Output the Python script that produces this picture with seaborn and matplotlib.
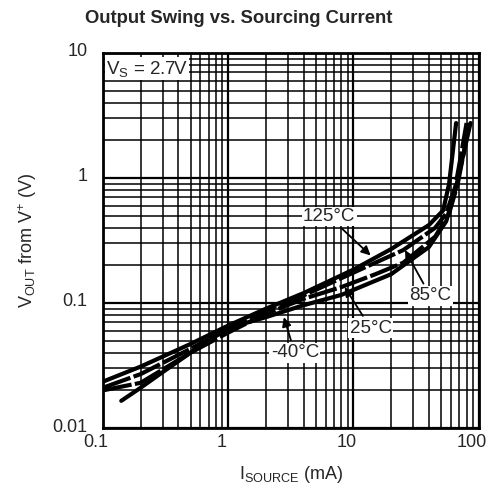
import pandas as pd
import matplotlib.pyplot as plt
import seaborn as sns
from matplotlib.ticker import LogLocator, NullFormatter
from matplotlib.transforms import ScaledTranslation

# curves (I in mA, V in volts)
i_125 = [0.1, 0.2, 0.5, 1, 2, 4, 10, 20, 40, 52, 58, 62, 66]
v_125 = [0.0235, 0.031, 0.047, 0.066, 0.09, 0.12, 0.185, 0.27, 0.42, 0.55, 0.9, 1.6, 2.75]
i_85 = [0.1, 0.2, 0.5, 1, 2, 4, 10, 25, 45, 55, 65, 72, 80]
v_85 = [0.021, 0.027, 0.043, 0.062, 0.088, 0.115, 0.175, 0.265, 0.4, 0.52, 0.85, 1.5, 2.75]
i_25 = [0.1, 0.2, 0.5, 1, 2, 4, 8, 15, 25, 45, 58, 68, 76, 84]
v_25 = [0.02, 0.023, 0.04, 0.058, 0.082, 0.108, 0.134, 0.17, 0.21, 0.34, 0.52, 0.9, 1.6, 2.75]
i_m40 = [0.14, 0.2, 0.3, 0.5, 1, 2, 4, 8, 20, 40, 55, 65, 75, 86]
v_m40 = [0.0165, 0.021, 0.028, 0.04, 0.063, 0.077, 0.096, 0.116, 0.17, 0.28, 0.45, 0.8, 1.5, 2.75]

temps = ['125°C', '85°C', '25°C', '-40°C']
currents = [i_125, i_85, i_25, i_m40]
volts = [v_125, v_85, v_25, v_m40]

frames = []
for t, i, v in zip(temps, currents, volts):
    frames.append(pd.DataFrame({'I': i, 'V': v, 'temp': t}))
df = pd.concat(frames, ignore_index=True)

sns.set_style('white')
plt.rcParams['font.family'] = ['Liberation Sans', 'DejaVu Sans']
plt.rcParams['mathtext.default'] = 'regular'

fig = plt.figure(figsize=(4.88, 4.90), dpi=100)
ax = fig.add_axes([0.211, 0.1265, 0.770, 0.7655])
ax.set_xscale('log')
ax.set_yscale('log')

sns.lineplot(data=df, x='I', y='V', hue='temp', style='temp',
             palette=['black'] * 4,
             dashes={'125°C': '', '85°C': (7, 0.8), '25°C': (7, 0.8), '-40°C': ''},
             linewidth=3, legend=False, sort=False, estimator=None, ax=ax, zorder=3)

ax.set_xlim(0.1, 100)
ax.set_ylim(0.01, 10)
ax.xaxis.set_minor_locator(LogLocator(base=10, subs=range(2, 10)))
ax.yaxis.set_minor_locator(LogLocator(base=10, subs=range(2, 10)))
ax.xaxis.set_minor_formatter(NullFormatter())
ax.yaxis.set_minor_formatter(NullFormatter())
ax.set_xticks([0.1, 1, 10, 100], labels=['0.1', '1', '10', '100'])
ax.set_yticks([0.01, 0.1, 1, 10], labels=['0.01', '0.1', '1', '10'])
ax.tick_params(which='both', length=0, labelsize=13)
ax.tick_params(axis='x', pad=4)
ax.tick_params(axis='y', pad=11)
# x labels sit a little left of their gridlines in the original
for lbl in ax.get_xticklabels():
    lbl.set_transform(lbl.get_transform() + ScaledTranslation(-0.07, 0, fig.dpi_scale_trans))
for lbl in ax.get_yticklabels():
    lbl.set_transform(lbl.get_transform() + ScaledTranslation(0, 0.03, fig.dpi_scale_trans))
ax.grid(which='major', color='black', lw=1.6)
ax.grid(which='minor', color='black', lw=1.1)
for s in ax.spines.values():
    s.set_color('black')
    s.set_linewidth(2)

ax.set_xlabel(r'I$_{SOURCE}$ (mA)', fontsize=13, labelpad=10)
ax.set_ylabel(r'V$_{OUT}$ from V$^{+}$ (V)', fontsize=13, labelpad=10)
fig.text(0.49, 0.963, 'Output Swing vs. Sourcing Current', ha='center', va='center',
         fontsize=13.3, fontweight='bold')

ax.text(0.106, 7.5, r'V$_S$ = 2.7V', fontsize=13.5, ha='left', va='center',
        bbox=dict(fc='white', ec='none', pad=1), zorder=4)

labels = [('125°C', (6.4, 0.49), (13.7, 0.24)),
          ('85°C', (41, 0.114), (25.8, 0.265)),
          ('25°C', (13.7, 0.063), (8.5, 0.134)),
          ('-40°C', (3.4, 0.040), (2.78, 0.077))]
for txt, pos, tip in labels:
    ax.annotate(txt, xy=tip, xytext=pos, fontsize=13.5, ha='center', va='center',
                bbox=dict(fc='white', ec='none', pad=1),
                arrowprops=dict(arrowstyle='-|>', color='black', lw=1.3, shrinkA=2, shrinkB=0),
                zorder=5)

fig.savefig('out.png', dpi=100)
